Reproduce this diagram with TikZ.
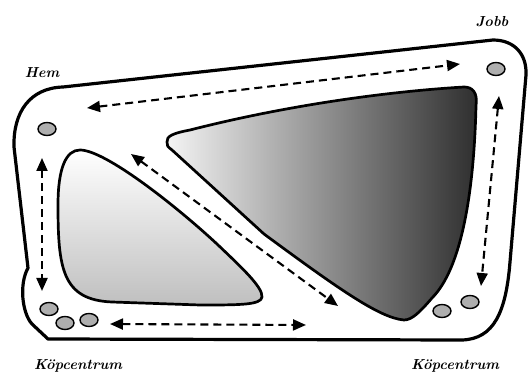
\documentclass[tikz,border=0pt]{standalone}
\usepackage{tikz}
\usetikzlibrary{shapes,arrows.meta,positioning,calc}

\tikzset{
  stop/.style={ellipse,draw,line width=1.4pt,fill=gray!85!black!55,minimum width=18pt,minimum height=13pt,inner sep=0pt},
  route/.style={line width=2.1pt,dash pattern=on 8pt off 5pt,{Triangle[length=13pt,width=11pt]}-{Triangle[length=13pt,width=11pt]}},
  place/.style={font=\fontsize{14.5}{16}\selectfont\bfseries\itshape},
  edge/.style={line width=3.2pt,line join=round},
  blob/.style={line width=2.7pt,line join=round}
}

\begin{document}
\begin{tikzpicture}[x=1pt,y=-1pt]
            \useasboundingbox (0,0) rectangle (528,374);
            % outer road
            \draw[edge,fill=white] (63,87) -- (493,40)
                .. controls (515,40) and (527,55) .. (526,75)
                -- (510,262) .. controls (506,312) and (494,339) .. (462,340)
                -- (48,339) -- (32,324)
                .. controls (22,313) and (19,284) .. (28,268)
                -- (14,147) .. controls (13,112) and (30,88) .. (63,87) -- cycle;
            % inner blocks
            \draw[blob,top color=white,bottom color=gray!50] (58,205)
                .. controls (58,168) and (66,150) .. (80,150)
                .. controls (105,150) and (175,205) .. (217,244)
                .. controls (240,266) and (263,287) .. (262,297)
                .. controls (261,305) and (240,305) .. (200,305)
                -- (112,302) .. controls (62,300) and (58,268) .. (58,205) -- cycle;
            \draw[blob,left color=gray!8,right color=black!82] (167,142)
                .. controls (166,136) and (174,133) .. (190,130)
                .. controls (280,107) and (380,92) .. (464,87)
                .. controls (472,87) and (478,92) .. (476,106)
                .. controls (474,190) and (462,268) .. (432,298)
                .. controls (420,312) and (412,320) .. (404,320)
                .. controls (380,318) and (340,290) .. (264,234)
                -- (172,150) .. controls (168,147) and (166,145) .. (167,142) -- cycle;
            % stops
            \foreach \n/\x/\y in {hem/47/129,jobb/496/69,kopA/49/309,kopB/65/323,kopC/89/320,kopD/442/311,kopE/470/302} {
                \node[stop] (\n) at (\x,\y) {};
            }
            % routes
            \coordinate (t1) at (87,108);   \coordinate (t2) at (460,64);
            \coordinate (l1) at (42,158);   \coordinate (l2) at (42,291);
            \coordinate (d1) at (131,154);  \coordinate (d2) at (338,306);
            \coordinate (b1) at (110,324);  \coordinate (b2) at (306,325);
            \coordinate (r1) at (499,96);   \coordinate (r2) at (481,286);
            \foreach \a/\b in {t1/t2,l1/l2,d1/d2,b1/b2,r1/r2} {
                \draw[route] (\a) -- (\b);
            }
            % labels
            \node[place] (hemtext) at (42,73) {Hem};
            \node[place] (jobbtext) at (492,22) {Jobb};
            \node[place] (kopleft) at (78,366) {Köpcentrum};
            \node[place] (kopright) at (455,366) {Köpcentrum};
        \end{tikzpicture}
\end{document}
